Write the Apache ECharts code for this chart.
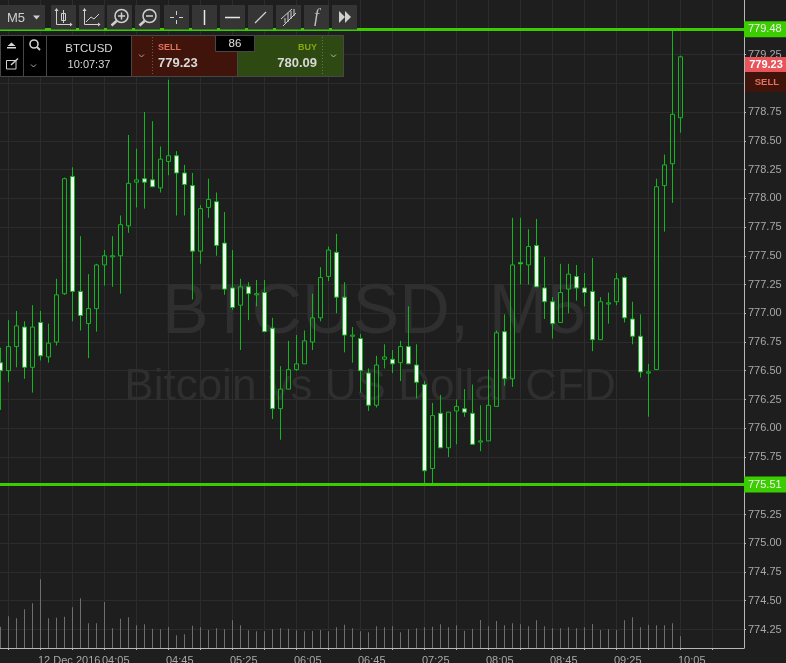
<!DOCTYPE html>
<html>
<head>
<meta charset="utf-8">
<title>BTCUSD M5</title>
<script src="https://cdn.jsdelivr.net/npm/echarts@6/dist/echarts.min.js"></script>
<style>
  html, body { margin: 0; padding: 0; background: #1e1e1e; }
  #chart { width: 786px; height: 663px; }
</style>
</head>
<body>
<div id="chart"></div>
<script>
// candle values, one entry per 5 minute bar
const opens = [776.57, 776.50, 776.71, 776.88, 776.53, 776.92, 776.62, 776.75, 777.17, 778.19,
  777.19, 776.91, 777.04, 777.42, 777.49, 777.50, 777.76, 778.14, 778.17, 778.16,
  778.09, 778.32, 778.37, 778.22, 778.11, 777.54, 777.92, 777.97, 777.61, 777.22,
  777.07, 777.23, 777.16, 777.18, 776.87, 776.17, 776.34, 776.51, 776.56, 776.75,
  776.96, 777.32, 777.53, 777.14, 776.80, 776.78, 776.48, 776.20, 776.60, 776.60,
  776.57, 776.71, 776.55, 776.38, 775.65, 776.13, 775.83, 776.15, 776.17, 776.13,
  775.88, 775.89, 776.19, 776.84, 776.43, 777.44, 777.42, 777.59, 777.22, 777.10,
  776.92, 777.21, 777.32, 777.22, 777.19, 776.77, 777.08, 777.10, 777.31, 776.95,
  776.80, 776.48, 776.51, 778.11, 778.30, 778.70];
const closes = [776.50, 776.71, 776.89, 776.53, 776.88, 776.63, 776.74, 777.16, 778.17, 777.19,
  776.98, 777.04, 777.42, 777.50, 777.50, 777.77, 778.13, 778.16, 778.14, 778.10,
  778.34, 778.37, 778.22, 778.12, 777.54, 777.91, 777.99, 777.59, 777.21, 777.05,
  777.23, 777.17, 777.17, 776.84, 776.17, 776.34, 776.51, 776.56, 776.76, 776.96,
  777.31, 777.55, 777.14, 776.81, 776.81, 776.50, 776.20, 776.55, 776.62, 776.56,
  776.71, 776.56, 776.40, 775.63, 776.11, 775.83, 776.14, 776.19, 776.14, 775.86,
  775.89, 776.20, 776.83, 776.43, 777.42, 777.43, 777.58, 777.23, 777.10, 776.91,
  777.18, 777.34, 777.22, 777.18, 776.77, 777.10, 777.09, 777.30, 776.96, 776.80,
  776.49, 776.49, 778.10, 778.29, 778.73, 779.23];
const lows = [776.16, 776.40, 776.53, 776.43, 776.31, 776.59, 776.57, 776.72, 777.16, 776.93,
  776.85, 776.61, 776.84, 777.24, 777.23, 777.17, 777.70, 777.92, 777.91, 778.10,
  778.05, 778.20, 777.85, 777.85, 777.12, 777.43, 777.83, 777.50, 777.16, 777.03,
  776.68, 776.94, 777.06, 776.84, 776.08, 775.90, 776.34, 776.50, 776.56, 776.68,
  776.93, 777.28, 777.00, 776.66, 776.57, 776.31, 776.15, 776.18, 776.52, 776.48,
  776.41, 776.56, 776.26, 775.51, 775.52, 775.83, 775.75, 775.86, 776.10, 775.86,
  775.80, 775.89, 776.19, 776.37, 776.36, 777.25, 777.25, 777.23, 776.95, 776.78,
  776.92, 777.00, 777.11, 777.06, 776.67, 776.77, 776.91, 777.07, 776.92, 776.73,
  776.44, 776.10, 776.51, 777.71, 777.96, 778.57];
const highs = [776.70, 776.94, 777.02, 776.93, 777.07, 777.02, 776.91, 777.30, 778.18, 778.27,
  777.67, 777.34, 777.43, 777.55, 777.67, 777.85, 778.55, 778.43, 778.75, 778.67,
  778.45, 779.03, 778.41, 778.29, 778.22, 777.94, 778.17, 778.05, 777.88, 777.55,
  777.30, 777.27, 777.29, 777.29, 776.96, 776.54, 776.76, 776.81, 776.85, 777.17,
  777.40, 777.58, 777.69, 777.27, 776.88, 776.82, 776.52, 776.63, 776.73, 776.68,
  776.76, 777.06, 776.73, 776.41, 776.22, 776.29, 776.14, 776.25, 776.34, 776.38,
  776.20, 776.51, 776.85, 776.99, 777.83, 777.83, 777.73, 777.82, 777.49, 777.14,
  777.43, 777.43, 777.42, 777.35, 777.48, 777.14, 777.18, 777.35, 777.32, 777.10,
  776.99, 776.56, 778.17, 778.38, 779.48, 779.24];
const volumes = [21.3, 31.7, 29.7, 38.7, 44.7, 68.7, 29.7, 30.3, 31.3, 40.7,
  49.7, 24.7, 24.7, 46, 19.7, 29.3, 30.7, 22.7, 23.7, 19.3,
  18.7, 21, 12.7, 13.7, 22.3, 20.7, 18, 19.7, 18.7, 27.7,
  22.7, 17.7, 16.7, 16.7, 18.7, 19.7, 19.3, 17.7, 16.7, 17,
  18, 16.7, 20.7, 23.3, 19.7, 16.7, 15.7, 21.7, 20.7, 21.7,
  15.7, 18.7, 19.7, 20.7, 21.3, 23.7, 20.7, 22.7, 17.3, 19.3,
  28, 21.7, 27, 22.7, 24.7, 23.7, 21.7, 27.7, 21.7, 19.7,
  19.7, 20.7, 19.7, 20.7, 24, 18, 18.7, 18, 27.7, 30.7,
  20.7, 23.3, 22.7, 22.7, 24.7, 11.7];

const priceTicks = [774.25, 774.50, 774.75, 775.00, 775.25, 775.50, 775.75, 776.00, 776.25, 776.50, 776.75,
  777.00, 777.25, 777.50, 777.75, 778.00, 778.25, 778.50, 778.75, 779.00, 779.25];
const gridBars = [1, 5, 9, 13, 17, 21, 25, 29, 33, 37, 41, 45, 49, 53, 57, 61, 65, 69, 73, 77, 81, 85, 89];
const labelBars = [5, 13, 21, 29, 37, 45, 53, 61, 69, 77, 85];
const timeLabels = ['12 Dec 2016', '04:05', '04:45', '05:25', '06:05', '06:45', '07:25', '08:05', '08:45', '09:25', '10:05'];
const levels = [779.47, 775.51];
const levelLabels = ['779.48', '775.51'];

const FONT = '"Liberation Sans", Arial, sans-serif';
const BG = '#1e1e1e';
const GRID = '#2c2c2c';
const CANDLE = '#10b81e';
const LEVEL = '#3ccd00';
const BTN = '#353535';
const ICON = '#d0d0d0';

// little helpers for the toolbar and trade panel, all sit on top of the chart
const ui = [];
const rect = (x, y, w, h, fill, stroke) => ui.push({
  type: 'rect', z: 100, silent: true, shape: { x, y, width: w, height: h },
  style: { fill, stroke: stroke || null, lineWidth: 1 }
});
const line = (x1, y1, x2, y2, color, width, dash) => ui.push({
  type: 'line', z: 101, silent: true, shape: { x1, y1, x2, y2 },
  style: { stroke: color || ICON, lineWidth: width || 1, lineDash: dash || null }
});
const poly = (points, color, width) => ui.push({
  type: 'polyline', z: 101, silent: true, shape: { points },
  style: { stroke: color || ICON, lineWidth: width || 1, fill: null }
});
const tri = (points, color) => ui.push({
  type: 'polygon', z: 101, silent: true, shape: { points }, style: { fill: color || ICON }
});
const circle = (cx, cy, r, color, width) => ui.push({
  type: 'circle', z: 101, silent: true, shape: { cx, cy, r },
  style: { fill: null, stroke: color || ICON, lineWidth: width || 1.5 }
});
const text = (x, y, str, size, fill, align, weight, family) => ui.push({
  type: 'text', z: 102, silent: true,
  style: {
    x, y, text: str, fill, textAlign: align || 'left', textVerticalAlign: 'middle',
    font: (weight || 'normal') + ' ' + size + 'px ' + (family || FONT)
  }
});

// toolbar
rect(0, 5, 45, 24.5, BTN);
[[51, 25], [79, 25], [107, 25], [135, 25], [164, 25], [192, 25], [220, 25], [248, 25], [276, 25], [304, 25], [332, 25]]
  .forEach(b => rect(b[0], 5, b[1], 24.5, BTN));
text(7, 18, 'M5', 13, '#cfcfcf');
tri([[33, 15.5], [40, 15.5], [36.5, 19.5]], '#cfcfcf');
// candle icon
poly([[56.5, 9], [56.5, 24.5], [72, 24.5]]);
tri([[54.5, 11], [56.5, 8], [58.5, 11]]);
tri([[70, 22.5], [72.5, 24.5], [70, 26.5]]);
rect(61.5, 13.5, 4, 7, null, ICON);
ui[ui.length - 1].z = 101;
line(63.5, 10, 63.5, 23);
// line icon
poly([[84.5, 9], [84.5, 24.5], [100, 24.5]]);
tri([[82.5, 11], [84.5, 8], [86.5, 11]]);
tri([[98, 22.5], [100.5, 24.5], [98, 26.5]]);
poly([[86, 22], [91, 17], [94, 19], [99, 14]]);
// zoom in, zoom out
circle(121.5, 16, 6.5);
line(116.5, 21, 111.5, 25.5, ICON, 2.5);
line(118, 16, 125, 16, ICON, 1.5);
line(121.5, 12.5, 121.5, 19.5, ICON, 1.5);
circle(149.5, 16, 6.5);
line(144.5, 21, 139.5, 25.5, ICON, 2.5);
line(146, 16, 153, 16, ICON, 1.5);
// crosshair
line(170, 17.5, 174, 17.5);
line(179, 17.5, 183, 17.5);
line(176.5, 11, 176.5, 15);
line(176.5, 20, 176.5, 24);
// vertical, horizontal, trend, channel
line(204.5, 10, 204.5, 25, '#e8e8e8', 1.5);
line(225, 17.5, 240, 17.5, '#e8e8e8', 1.5);
line(255, 23, 266, 12, ICON, 1.2);
line(281, 19, 292, 9, ICON, 1);
line(283, 26, 296, 13, ICON, 1);
line(285, 18, 285, 23, ICON, 1);
line(288, 13, 288, 22, ICON, 1);
line(291, 11, 291, 19, ICON, 1);
line(294, 9, 294, 16, ICON, 1);
text(316.5, 17.5, 'f', 18, '#bdbdbd', 'center', 'italic', '"Liberation Serif", serif');
// fast forward
tri([[339, 11], [345, 17], [339, 23]], '#cfcfcf');
tri([[345, 11], [351, 17], [345, 23]], '#cfcfcf');

// trade panel
rect(0.5, 35.5, 343, 41, '#000000', '#474747');
rect(131.5, 35.5, 106, 41, '#40140b', '#474747');
rect(237.5, 35.5, 106, 41, '#2e4a12', '#474747');
line(23.5, 36, 23.5, 76, '#474747');
line(46.5, 36, 46.5, 76, '#474747');
line(152.5, 37, 152.5, 75, '#6a5a55', 1, [1, 2]);
line(322.5, 37, 322.5, 75, '#66755a', 1, [1, 2]);
rect(215.5, 35.5, 39, 16, '#000000', '#474747');
ui[ui.length - 1].z = 101;
// pin and popout icons
rect(7, 47, 9, 1.5, '#d8d8d8');
ui[ui.length - 1].z = 101;
tri([[7.5, 46], [15.5, 46], [11.5, 42.5]], '#d8d8d8');
rect(6.5, 60.5, 9.5, 8.5, null, '#d0d0d0');
ui[ui.length - 1].z = 101;
line(11, 65, 18, 58.5, '#d0d0d0', 1.5);
circle(34, 44, 4, '#d0d0d0', 1.6);
line(37, 47, 40, 50, '#d0d0d0', 1.8);
poly([[31, 64.5], [33.5, 67], [36, 64.5]], '#b0b0b0');
poly([[139, 54.5], [141.5, 57], [144, 54.5]], '#b0a09a');
poly([[331, 54.5], [333.5, 57], [336, 54.5]], '#b0b8a8');
text(89, 48.5, 'BTCUSD', 11.5, '#d8d8d8', 'center');
text(89, 65, '10:07:37', 11, '#d8d8d8', 'center');
text(158, 47.5, 'SELL', 9, '#e4735e', 'left', 'bold');
text(158, 63, '779.23', 13, '#d8d8d8', 'left', 'bold');
text(317, 47.5, 'BUY', 9, '#85a80d', 'right', 'bold');
text(317, 63, '780.09', 13, '#d8d8d8', 'right', 'bold');
text(235, 44, '86', 11.5, '#e0e0e0', 'center');

// sell price tag on the axis
rect(745, 57, 41, 15, '#e8545a');
rect(745, 72, 41, 20, '#40140b');
text(766, 65, '779.23', 11, '#ffffff', 'center', 'bold');
text(779, 82.5, 'SELL', 9.5, '#e4735e', 'right', 'bold');

// big watermark, under the candles
const watermark = [
  { type: 'text', z: 1, silent: true, style: { x: 374, y: 314, text: 'BTCUSD, M5', fill: '#2f2f2f', textAlign: 'center', textVerticalAlign: 'middle', font: '70px ' + FONT } },
  { type: 'text', z: 1, silent: true, style: { x: 370, y: 388, text: 'Bitcoin vs US Dollar CFD', fill: '#2f2f2f', textAlign: 'center', textVerticalAlign: 'middle', font: '44px ' + FONT } }
];

const chart = echarts.init(document.getElementById('chart'));

chart.setOption({
  animation: false,
  backgroundColor: BG,
  textStyle: { fontFamily: FONT },
  // outerBoundsMode off, the labels must not squeeze the plot
  grid: { left: 0, top: 0, width: 744, height: 648, containLabel: false, outerBoundsMode: 'none' },
  xAxis: {
    type: 'value',
    min: -0.0625,
    max: 92.9375,
    axisLine: { onZero: false, lineStyle: { color: '#b8b8b8' } },
    axisTick: { length: 2, customValues: gridBars, lineStyle: { color: '#b8b8b8' } },
    axisLabel: {
      customValues: labelBars,
      formatter: v => timeLabels[labelBars.indexOf(v)],
      color: '#a8a8a8',
      fontSize: 11,
      align: 'left',
      margin: 5,
      padding: [2, 0, 0, -2.5]
    },
    splitLine: { show: true, showMinLine: true, showMaxLine: true, lineStyle: { color: GRID } }
  },
  yAxis: [
    {
      type: 'value',
      position: 'right',
      min: 774.089,
      max: 779.724,
      axisLine: { show: true, onZero: false, lineStyle: { color: '#b8b8b8' } },
      axisTick: { show: true, length: 2, customValues: priceTicks, lineStyle: { color: '#b8b8b8' } },
      axisLabel: {
        customValues: priceTicks,
        formatter: v => v.toFixed(2),
        color: '#a8a8a8',
        fontSize: 11,
        margin: 4,
        padding: [2, 0, 0, 0]
      },
      splitLine: { show: true, showMinLine: true, showMaxLine: true, lineStyle: { color: GRID } }
    },
    {
      type: 'value',
      min: 0,
      max: 648,
      show: false,
      axisLine: { show: false },
      axisTick: { show: false },
      axisLabel: { show: false },
      splitLine: { show: false }
    }
  ],
  graphic: { elements: watermark.concat(ui) },
  series: [
    {
      type: 'bar',
      yAxisIndex: 1,
      barWidth: 1,
      silent: true,
      itemStyle: { color: '#6e6e6e' },
      data: volumes.map((v, i) => [i, v])
    },
    {
      type: 'candlestick',
      barWidth: 4,
      silent: true,
      encode: { x: 0, y: [1, 2, 3, 4] },
      itemStyle: {
        color: 'rgba(0,0,0,0)',
        color0: '#f4f4f4',
        borderColor: CANDLE,
        borderColor0: CANDLE,
        borderColorDoji: CANDLE,
        borderWidth: 1
      },
      data: opens.map((o, i) => [i, o, closes[i], lows[i], highs[i]]),
      markLine: {
        silent: true,
        symbol: 'none',
        animation: false,
        lineStyle: { color: LEVEL, width: 3, type: 'solid' },
        label: {
          position: 'end',
          distance: 0,
          formatter: p => levelLabels[levels.indexOf(p.value)],
          color: '#f0f0f0',
          fontSize: 11,
          backgroundColor: LEVEL,
          width: 38,
          height: 16,
          lineHeight: 16,
          align: 'left',
          padding: [0, 0, 0, 4]
        },
        data: levels.map(v => ({ yAxis: v }))
      }
    }
  ]
});
</script>
</body>
</html>
